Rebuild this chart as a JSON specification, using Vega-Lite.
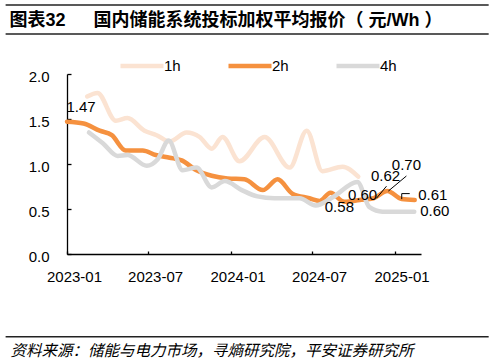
{
  "$schema": "https://vega.github.io/schema/vega-lite/v6.json",
  "width": 354,
  "height": 180,
  "autosize": {"type": "none"},
  "padding": {"left": 67, "top": 74, "right": 74, "bottom": 108},
  "background": "white",
  "config": {
    "view": {"stroke": null},
    "axis": {
      "domainColor": "#000000",
      "domainWidth": 1.3,
      "tickColor": "#000000",
      "tickWidth": 1.3,
      "labelFont": "Liberation Sans",
      "labelFontSize": 15,
      "labelColor": "#000000",
      "grid": false
    }
  },
  "datasets": {
    "prices": [
      {"series": "1h", "date": "2023-02-15", "value": 1.75},
      {"series": "1h", "date": "2023-03-10", "value": 1.79},
      {"series": "1h", "date": "2023-04-20", "value": 1.48},
      {"series": "1h", "date": "2023-05-16", "value": 1.51},
      {"series": "1h", "date": "2023-06-23", "value": 1.37},
      {"series": "1h", "date": "2023-07-20", "value": 1.32},
      {"series": "1h", "date": "2023-08-18", "value": 1.25},
      {"series": "1h", "date": "2023-09-25", "value": 1.35},
      {"series": "1h", "date": "2023-10-24", "value": 1.30},
      {"series": "1h", "date": "2023-11-20", "value": 1.17},
      {"series": "1h", "date": "2023-12-14", "value": 1.30},
      {"series": "1h", "date": "2024-01-21", "value": 1.03},
      {"series": "1h", "date": "2024-03-17", "value": 1.30},
      {"series": "1h", "date": "2024-05-12", "value": 0.96},
      {"series": "1h", "date": "2024-06-19", "value": 1.37},
      {"series": "1h", "date": "2024-07-24", "value": 0.92},
      {"series": "1h", "date": "2024-09-07", "value": 0.97},
      {"series": "1h", "date": "2024-10-12", "value": 0.86},
      {"series": "2h", "date": "2023-01-01", "value": 1.47},
      {"series": "2h", "date": "2023-02-07", "value": 1.45},
      {"series": "2h", "date": "2023-03-15", "value": 1.37},
      {"series": "2h", "date": "2023-04-11", "value": 1.32},
      {"series": "2h", "date": "2023-05-12", "value": 1.15},
      {"series": "2h", "date": "2023-06-19", "value": 1.15},
      {"series": "2h", "date": "2023-07-18", "value": 1.10},
      {"series": "2h", "date": "2023-08-18", "value": 1.07},
      {"series": "2h", "date": "2023-09-14", "value": 1.04},
      {"series": "2h", "date": "2023-10-17", "value": 0.93},
      {"series": "2h", "date": "2023-11-20", "value": 0.87},
      {"series": "2h", "date": "2023-12-25", "value": 0.84},
      {"series": "2h", "date": "2024-02-01", "value": 0.83},
      {"series": "2h", "date": "2024-03-13", "value": 0.71},
      {"series": "2h", "date": "2024-04-15", "value": 0.83},
      {"series": "2h", "date": "2024-05-18", "value": 0.67},
      {"series": "2h", "date": "2024-06-25", "value": 0.62},
      {"series": "2h", "date": "2024-07-18", "value": 0.59},
      {"series": "2h", "date": "2024-08-11", "value": 0.68},
      {"series": "2h", "date": "2024-09-11", "value": 0.58},
      {"series": "2h", "date": "2024-10-15", "value": 0.60},
      {"series": "2h", "date": "2024-11-15", "value": 0.62},
      {"series": "2h", "date": "2024-12-16", "value": 0.70},
      {"series": "2h", "date": "2025-01-17", "value": 0.61},
      {"series": "2h", "date": "2025-02-15", "value": 0.60},
      {"series": "4h", "date": "2023-02-19", "value": 1.35},
      {"series": "4h", "date": "2023-03-22", "value": 1.23},
      {"series": "4h", "date": "2023-04-24", "value": 1.09},
      {"series": "4h", "date": "2023-05-16", "value": 1.10},
      {"series": "4h", "date": "2023-06-28", "value": 0.98},
      {"series": "4h", "date": "2023-07-22", "value": 1.05},
      {"series": "4h", "date": "2023-08-16", "value": 1.26},
      {"series": "4h", "date": "2023-09-16", "value": 0.93},
      {"series": "4h", "date": "2023-10-17", "value": 0.96},
      {"series": "4h", "date": "2023-11-20", "value": 0.74},
      {"series": "4h", "date": "2023-12-19", "value": 0.81},
      {"series": "4h", "date": "2024-01-26", "value": 0.71},
      {"series": "4h", "date": "2024-03-01", "value": 0.64},
      {"series": "4h", "date": "2024-04-08", "value": 0.62},
      {"series": "4h", "date": "2024-06-03", "value": 0.62},
      {"series": "4h", "date": "2024-07-09", "value": 0.54},
      {"series": "4h", "date": "2024-08-16", "value": 0.63},
      {"series": "4h", "date": "2024-10-10", "value": 0.80},
      {"series": "4h", "date": "2024-11-06", "value": 0.52},
      {"series": "4h", "date": "2024-12-05", "value": 0.47},
      {"series": "4h", "date": "2025-02-14", "value": 0.47}
    ]
  },
  "layer": [
    {
      "data": {"name": "prices"},
      "mark": {"type": "line", "interpolate": "monotone", "strokeWidth": 4.5, "strokeCap": "round", "strokeJoin": "round"},
      "encoding": {
        "x": {
          "field": "date",
          "type": "temporal",
          "scale": {"domain": [{"year": 2023, "month": 1, "date": 1}, {"year": 2025, "month": 3, "date": 1}]},
          "axis": {
            "values": [
              {"year": 2023, "month": 1, "date": 1},
              {"year": 2023, "month": 7, "date": 1},
              {"year": 2024, "month": 1, "date": 1},
              {"year": 2024, "month": 7, "date": 1},
              {"year": 2025, "month": 1, "date": 1}
            ],
            "format": "%Y-%m",
            "tickSize": -3,
            "labelPadding": 18,
            "labelOffset": 7,
            "labelFlush": false,
            "labelOverlap": false,
            "title": "资料来源：储能与电力市场，寻熵研究院，平安证券研究所",
            "titleFont": "Noto Sans CJK SC",
            "titleFontStyle": "italic",
            "titleFontWeight": "normal",
            "titleFontSize": 15.5,
            "titleColor": "#000000",
            "titleX": -57,
            "titleY": 96,
            "titleAlign": "left",
            "titleBaseline": "middle",
            "titleAnchor": "start"
          }
        },
        "y": {
          "field": "value",
          "type": "quantitative",
          "scale": {"domain": [0, 2], "nice": false, "zero": true},
          "axis": {
            "values": [0, 0.5, 1, 1.5, 2],
            "format": ".1f",
            "tickSize": -4,
            "labelPadding": 22,
            "labelOffset": 2,
            "title": "图表32\u3000\u00a0\u00a0国内储能系统投标加权平均报价（\u00a0元/Wh\u00a0）",
            "titleFont": "Liberation Sans, Noto Sans CJK SC",
            "titleFontWeight": "bold",
            "titleFontSize": 18,
            "titleColor": "#000000",
            "titleAngle": 0,
            "titleX": -58,
            "titleY": -54,
            "titleAlign": "left",
            "titleBaseline": "middle",
            "titleAnchor": "start"
          }
        },
        "color": {
          "field": "series",
          "type": "nominal",
          "scale": {"domain": ["1h", "2h", "4h"], "range": ["#FBE3D2", "#F5913F", "#D9D9D9"]},
          "legend": {
            "orient": "none",
            "legendX": 51,
            "legendY": -32,
            "direction": "horizontal",
            "title": null,
            "symbolType": "stroke",
            "symbolSize": 1850,
            "symbolStrokeWidth": 4.5,
            "labelFont": "Liberation Sans",
            "labelFontSize": 15,
            "labelColor": "#000000",
            "labelOffset": -2,
            "columnPadding": 38,
            "padding": 0
          }
        }
      }
    },
    {
      "data": {"values": [{}]},
      "mark": {"type": "rule", "color": "#222222", "strokeWidth": 1.5},
      "encoding": {
        "x": {"datum": {"year": 2022, "month": 8, "date": 17}, "type": "temporal"},
        "x2": {"datum": {"year": 2025, "month": 7, "date": 30}},
        "y": {"datum": 2.767, "type": "quantitative"}
      }
    },
    {
      "data": {"values": [{}]},
      "mark": {"type": "rule", "color": "#222222", "strokeWidth": 1.5},
      "encoding": {
        "x": {"datum": {"year": 2022, "month": 8, "date": 17}, "type": "temporal"},
        "x2": {"datum": {"year": 2025, "month": 7, "date": 30}},
        "y": {"datum": 2.444, "type": "quantitative"}
      }
    },
    {
      "data": {"values": [{}]},
      "mark": {"type": "rule", "color": "#222222", "strokeWidth": 1.5},
      "encoding": {
        "x": {"datum": {"year": 2022, "month": 8, "date": 17}, "type": "temporal"},
        "x2": {"datum": {"year": 2025, "month": 7, "date": 30}},
        "y": {"datum": -0.919, "type": "quantitative"}
      }
    },
    {
      "data": {"name": "prices"},
      "transform": [{"filter": "datum.series === '2h' && year(datum.date) === 2023 && month(datum.date) === 0"}],
      "mark": {"type": "text", "font": "Liberation Sans", "fontSize": 15, "color": "#000000", "dx": 14, "dy": -15},
      "encoding": {
        "x": {"field": "date", "type": "temporal"},
        "y": {"field": "value", "type": "quantitative"},
        "text": {"field": "value", "type": "quantitative", "format": ".2f"}
      }
    },
    {
      "data": {"name": "prices"},
      "transform": [{"filter": "datum.series === '2h' && year(datum.date) === 2024 && month(datum.date) === 8"}],
      "mark": {"type": "text", "font": "Liberation Sans", "fontSize": 15, "color": "#000000", "dx": -5, "dy": 5},
      "encoding": {
        "x": {"field": "date", "type": "temporal"},
        "y": {"field": "value", "type": "quantitative"},
        "text": {"field": "value", "type": "quantitative", "format": ".2f"}
      }
    },
    {
      "data": {"name": "prices"},
      "transform": [{"filter": "datum.series === '2h' && year(datum.date) === 2024 && month(datum.date) === 9"}],
      "mark": {"type": "text", "font": "Liberation Sans", "fontSize": 15, "color": "#000000", "dx": 3, "dy": -5},
      "encoding": {
        "x": {"field": "date", "type": "temporal"},
        "y": {"field": "value", "type": "quantitative"},
        "text": {"field": "value", "type": "quantitative", "format": ".2f"}
      }
    },
    {
      "data": {"name": "prices"},
      "transform": [{"filter": "datum.series === '2h' && year(datum.date) === 2024 && month(datum.date) === 10"}],
      "mark": {"type": "text", "font": "Liberation Sans", "fontSize": 15, "color": "#000000", "dx": 12, "dy": -22},
      "encoding": {
        "x": {"field": "date", "type": "temporal"},
        "y": {"field": "value", "type": "quantitative"},
        "text": {"field": "value", "type": "quantitative", "format": ".2f"}
      }
    },
    {
      "data": {"name": "prices"},
      "transform": [{"filter": "datum.series === '2h' && year(datum.date) === 2024 && month(datum.date) === 11"}],
      "mark": {"type": "text", "font": "Liberation Sans", "fontSize": 15, "color": "#000000", "dx": 19, "dy": -26},
      "encoding": {
        "x": {"field": "date", "type": "temporal"},
        "y": {"field": "value", "type": "quantitative"},
        "text": {"field": "value", "type": "quantitative", "format": ".2f"}
      }
    },
    {
      "data": {"name": "prices"},
      "transform": [{"filter": "datum.series === '2h' && year(datum.date) === 2025 && month(datum.date) === 0"}],
      "mark": {"type": "text", "font": "Liberation Sans", "fontSize": 15, "color": "#000000", "dx": 31, "dy": -4},
      "encoding": {
        "x": {"field": "date", "type": "temporal"},
        "y": {"field": "value", "type": "quantitative"},
        "text": {"field": "value", "type": "quantitative", "format": ".2f"}
      }
    },
    {
      "data": {"name": "prices"},
      "transform": [{"filter": "datum.series === '2h' && year(datum.date) === 2025 && month(datum.date) === 1"}],
      "mark": {"type": "text", "font": "Liberation Sans", "fontSize": 15, "color": "#000000", "dx": 20, "dy": 11},
      "encoding": {
        "x": {"field": "date", "type": "temporal"},
        "y": {"field": "value", "type": "quantitative"},
        "text": {"field": "value", "type": "quantitative", "format": ".2f"}
      }
    },
    {
      "data": {"name": "prices"},
      "transform": [{"filter": "datum.series === '2h' && year(datum.date) === 2024 && month(datum.date) === 10"}],
      "mark": {"type": "rule", "color": "#000000", "strokeWidth": 1, "xOffset": 3, "yOffset": 0, "x2Offset": 13, "y2Offset": -12},
      "encoding": {
        "x": {"field": "date", "type": "temporal"},
        "x2": {"field": "date"},
        "y": {"field": "value", "type": "quantitative"},
        "y2": {"field": "value"}
      }
    },
    {
      "data": {"name": "prices"},
      "transform": [{"filter": "datum.series === '2h' && year(datum.date) === 2024 && month(datum.date) === 11"}],
      "mark": {"type": "rule", "color": "#000000", "strokeWidth": 1, "xOffset": 1, "yOffset": 0, "x2Offset": 19, "y2Offset": -15},
      "encoding": {
        "x": {"field": "date", "type": "temporal"},
        "x2": {"field": "date"},
        "y": {"field": "value", "type": "quantitative"},
        "y2": {"field": "value"}
      }
    },
    {
      "data": {"name": "prices"},
      "transform": [{"filter": "datum.series === '2h' && year(datum.date) === 2025 && month(datum.date) === 0"}],
      "mark": {"type": "rule", "color": "#000000", "strokeWidth": 1, "xOffset": 0, "yOffset": 0, "x2Offset": 0, "y2Offset": -5.5},
      "encoding": {
        "x": {"field": "date", "type": "temporal"},
        "x2": {"field": "date"},
        "y": {"field": "value", "type": "quantitative"},
        "y2": {"field": "value"}
      }
    },
    {
      "data": {"name": "prices"},
      "transform": [{"filter": "datum.series === '2h' && year(datum.date) === 2025 && month(datum.date) === 0"}],
      "mark": {"type": "rule", "color": "#000000", "strokeWidth": 1, "xOffset": 0, "yOffset": -5.5, "x2Offset": 8, "y2Offset": -5.5},
      "encoding": {
        "x": {"field": "date", "type": "temporal"},
        "x2": {"field": "date"},
        "y": {"field": "value", "type": "quantitative"},
        "y2": {"field": "value"}
      }
    }
  ]
}
